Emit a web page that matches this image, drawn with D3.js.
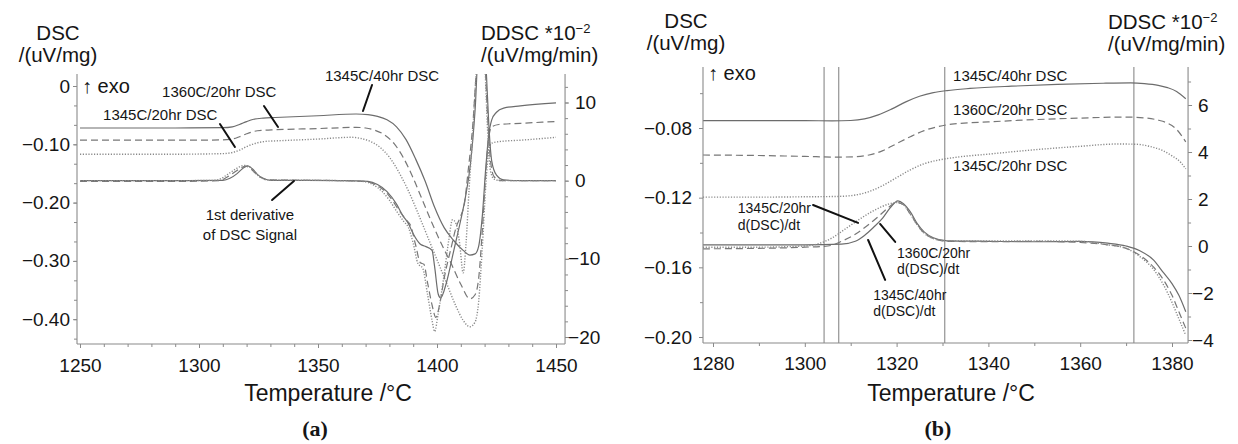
<!DOCTYPE html>
<html><head><meta charset="utf-8">
<script src="https://cdn.jsdelivr.net/npm/d3@7"></script>
<style>
body{margin:0;background:#fff}
svg{display:block}
text{font-family:"Liberation Sans",Arial,Helvetica,sans-serif;fill:#151515}
</style>
</head><body>
<svg id="chart" width="1238" height="444"></svg>
<script>
// ---------------- DATA ----------------
const seriesNames = ["1345C/40hr", "1360C/20hr", "1345C/20hr"];

// Panel (a) tick values / labels
const tempTicksA = [1250, 1300, 1350, 1400, 1450];
const dscTicksA = [0, -0.1, -0.2, -0.3, -0.4];
const dscTickLabelsA = ["0", "−0.10", "−0.20", "−0.30", "−0.40"];
const ddscTicksA = [10, 0, -10, -20];
const ddscTickLabelsA = ["10", "0", "−10", "−20"];

// Panel (b) tick values / labels
const tempTicksB = [1280, 1300, 1320, 1340, 1360, 1380];
const dscTicksB = [-0.08, -0.12, -0.16, -0.20];
const dscTickLabelsB = ["−0.08", "−0.12", "−0.16", "−0.20"];
const ddscTicksB = [6, 4, 2, 0, -2, -4];
const ddscTickLabelsB = ["6", "4", "2", "0", "−2", "−4"];

// Panel (a) DSC signal (uV/mg) [temperature °C, value]
const dscA_1345C40hr = [[1250,-0.072],[1290,-0.072],[1310,-0.0715],[1314,-0.070],[1317,-0.066],[1320,-0.061],[1323,-0.057],[1327,-0.055],[1332,-0.054],[1350,-0.051],[1366,-0.048],[1371,-0.049],[1375,-0.052],[1379,-0.058],[1383,-0.070],[1387,-0.092],[1391,-0.125],[1395,-0.163],[1399,-0.208],[1403,-0.243],[1407,-0.265],[1411,-0.282],[1413.8,-0.290],[1416,-0.288],[1417.5,-0.275],[1419,-0.225],[1420.5,-0.140],[1421.7,-0.085],[1423,-0.058],[1425,-0.045],[1428,-0.038],[1435,-0.034],[1450,-0.029]];
const dscA_1360C20hr = [[1250,-0.093],[1290,-0.093],[1310,-0.0925],[1314,-0.091],[1317,-0.087],[1320,-0.082],[1323,-0.078],[1327,-0.076],[1332,-0.075],[1350,-0.073],[1366,-0.071],[1370,-0.072],[1374,-0.076],[1378,-0.084],[1382,-0.099],[1386,-0.124],[1390,-0.158],[1394,-0.197],[1398,-0.236],[1402,-0.272],[1406,-0.305],[1410,-0.340],[1413.8,-0.365],[1416,-0.358],[1417.5,-0.330],[1419,-0.250],[1420.5,-0.150],[1421.7,-0.090],[1423,-0.070],[1426,-0.066],[1435,-0.064],[1450,-0.061]];
const dscA_1345C20hr = [[1250,-0.117],[1290,-0.117],[1310,-0.116],[1314,-0.114],[1317,-0.110],[1320,-0.104],[1324,-0.098],[1328,-0.095],[1333,-0.094],[1350,-0.091],[1364,-0.088],[1368,-0.090],[1372,-0.095],[1376,-0.105],[1380,-0.122],[1384,-0.148],[1388,-0.180],[1392,-0.218],[1396,-0.258],[1400,-0.298],[1404,-0.338],[1408,-0.378],[1411,-0.402],[1413.8,-0.413],[1416,-0.405],[1417.5,-0.370],[1419,-0.280],[1420.5,-0.170],[1421.7,-0.112],[1423,-0.098],[1427,-0.095],[1435,-0.093],[1450,-0.088]];

// Panel (a) 1st derivative (10^-2 uV/mg/min)
const ddscA_1345C40hr = [[1250,0],[1290,0],[1310,0.05],[1313,0.3],[1316,0.9],[1318.5,1.6],[1320.5,1.9],[1322.5,1.5],[1324.5,0.8],[1327,0.3],[1330,0.05],[1360,0],[1371,-0.1],[1375,-0.5],[1379,-1.4],[1383,-3.0],[1385.7,-4.5],[1388,-5.5],[1390,-6.8],[1392.9,-8.1],[1395,-8.4],[1397.9,-8.9],[1399,-11],[1400.5,-14.5],[1401.5,-15],[1404,-13],[1407,-9],[1410,-5],[1412,-2],[1414,2],[1416,9],[1418,20],[1419.5,20],[1420.7,14],[1421.8,7],[1423,2.5],[1425,0.7],[1428,0.1],[1435,0],[1450,0]];
const ddscA_1360C20hr = [[1250,-0.1],[1290,-0.1],[1308,0],[1311,0.3],[1314,0.9],[1317,1.5],[1319.5,1.85],[1321.5,1.6],[1323.5,1.0],[1326,0.4],[1329,0.1],[1360,0],[1370,-0.1],[1374,-0.5],[1378,-1.3],[1381,-2.4],[1384,-3.8],[1387,-5.0],[1389,-5.8],[1391,-8.2],[1393,-10.5],[1394.5,-10.7],[1396,-13],[1398,-16],[1399.5,-17.5],[1401,-16],[1403,-12.5],[1406,-8.5],[1408,-6],[1410,-4.5],[1411.5,-3],[1413,1],[1415,7],[1417,16],[1418.5,20],[1420,16],[1421.3,8],[1422.5,2.5],[1424,0.5],[1427,0],[1450,0]];
const ddscA_1345C20hr = [[1250,0],[1290,0],[1307,0.05],[1310,0.4],[1313,1.0],[1316,1.6],[1319,1.95],[1321,1.8],[1323,1.2],[1325.5,0.5],[1329,0.1],[1360,0],[1369,-0.1],[1373,-0.5],[1377,-1.4],[1380,-2.5],[1383,-3.9],[1386,-5.2],[1388,-6.0],[1390,-8.0],[1392,-10.6],[1394,-11.2],[1396,-14.5],[1398,-18],[1399,-19.3],[1400.5,-17],[1403,-12],[1405,-7.5],[1406.5,-5],[1408,-5.5],[1409.5,-8],[1411,-11.8],[1412.2,-8],[1413.5,-1],[1415,6],[1416.5,14],[1418,20],[1419.5,20],[1420.5,12],[1421.5,5],[1422.5,1.2],[1424,0.2],[1427,0],[1450,0]];

// Panel (b) DSC signal (uV/mg)
const dscB_1345C40hr = [[1277.8,-0.0758],[1290,-0.0758],[1300,-0.0758],[1306,-0.0759],[1310,-0.0757],[1313,-0.0748],[1316,-0.0725],[1319,-0.0690],[1322,-0.0650],[1325,-0.0618],[1328,-0.0597],[1331,-0.0585],[1336,-0.0573],[1345,-0.0560],[1355,-0.0550],[1365,-0.0543],[1371,-0.0541],[1374,-0.0545],[1377,-0.0555],[1379,-0.0568],[1381,-0.0590],[1383,-0.0632]];
const dscB_1360C20hr = [[1277.8,-0.0955],[1290,-0.0958],[1300,-0.0963],[1307,-0.0967],[1311,-0.0965],[1314,-0.0955],[1317,-0.0930],[1320,-0.0890],[1323,-0.0850],[1326,-0.0815],[1329,-0.0792],[1332,-0.0778],[1340,-0.0765],[1350,-0.0752],[1360,-0.0743],[1370,-0.0737],[1374,-0.0742],[1377,-0.0755],[1379,-0.0772],[1381,-0.0808],[1383,-0.0880]];
const dscB_1345C20hr = [[1277.8,-0.1197],[1290,-0.1197],[1300,-0.1195],[1307,-0.1193],[1311,-0.1185],[1314,-0.1165],[1317,-0.1130],[1320,-0.1085],[1323,-0.1040],[1326,-0.1005],[1329,-0.0985],[1333,-0.0968],[1340,-0.0950],[1350,-0.0925],[1360,-0.0905],[1368,-0.0892],[1372,-0.0893],[1375,-0.0905],[1378,-0.0930],[1380,-0.0960],[1382,-0.1000],[1383,-0.1035]];

// Panel (b) 1st derivative (10^-2 uV/mg/min)
const ddscB_1345C40hr = [[1277.8,0.05],[1290,0.05],[1300,0.05],[1308,0.08],[1311,0.2],[1313,0.45],[1315,0.8],[1317,1.2],[1318.5,1.6],[1320.3,1.92],[1321.5,1.8],[1323,1.45],[1324.5,0.95],[1326,0.6],[1328,0.35],[1331,0.22],[1340,0.2],[1350,0.18],[1360,0.2],[1366,0.12],[1370,0],[1373,-0.2],[1376,-0.6],[1378,-1.1],[1380,-1.6],[1381.5,-2.1],[1383,-2.8]];
const ddscB_1360C20hr = [[1277.8,-0.12],[1290,-0.1],[1300,-0.05],[1305,0],[1308,0.2],[1311,0.5],[1313.5,0.85],[1316,1.25],[1318,1.6],[1320,1.85],[1321.5,1.75],[1323,1.35],[1324.5,0.9],[1326,0.55],[1328,0.32],[1331,0.2],[1340,0.18],[1350,0.2],[1360,0.15],[1366,0.05],[1370,-0.1],[1373,-0.4],[1376,-0.9],[1378,-1.4],[1380,-2.1],[1381.5,-2.8],[1383,-3.5]];
const ddscB_1345C20hr = [[1277.8,-0.05],[1290,-0.05],[1300,0],[1303,0.1],[1306,0.35],[1309,0.75],[1312,1.15],[1314.5,1.45],[1316.5,1.65],[1318.5,1.8],[1320,1.85],[1321.5,1.75],[1323,1.35],[1324.5,0.9],[1326,0.55],[1328,0.32],[1331,0.22],[1340,0.22],[1350,0.22],[1360,0.2],[1366,0.05],[1370,-0.1],[1373,-0.45],[1376,-1.0],[1378,-1.6],[1380,-2.4],[1381.5,-3.1],[1383,-3.8]];

// Panel (b) vertical marker temperatures
const markerTempsB = [1304.2, 1307.4, 1330.5, 1371.7];

// ---------------- DRAWING ----------------
const svg = d3.select("#chart");
const STYLE = {
  "1345C/40hr": {dash: null, color: "#6c6c6c", width: 1.2},
  "1360C/20hr": {dash: "7,4", color: "#777", width: 1.2},
  "1345C/20hr": {dash: "1.2,1.6", color: "#8a8a8a", width: 1.4}
};
const AXIS_COLOR = "#8a8a8a";

function drawPanel(P) {
  const g = svg.append("g");
  const x = d3.scaleLinear().domain(P.xDom).range(P.xRng);
  const yL = d3.scaleLinear().domain(P.yLDom).range(P.yLRng);
  const yR = d3.scaleLinear().domain(P.yRDom).range(P.yRRng);
  const fx0 = x(P.xFrame[0]), fx1 = x(P.xFrame[1]);
  const fy0 = P.yFrame[0], fy1 = P.yFrame[1];

  const clipId = "clip-" + P.id;
  svg.append("defs").append("clipPath").attr("id", clipId)
    .append("rect").attr("x", fx0).attr("y", fy0).attr("width", fx1 - fx0).attr("height", fy1 - fy0);

  // vertical markers
  if (P.markers) {
    g.selectAll("line.marker").data(P.markers).join("line")
      .attr("x1", d => x(d)).attr("x2", d => x(d))
      .attr("y1", fy0).attr("y2", fy1)
      .attr("stroke", "#7d7d7d").attr("stroke-width", 1);
  }

  // series
  const plot = g.append("g").attr("clip-path", `url(#${clipId})`);
  const lineL = d3.line().x(d => x(d[0])).y(d => yL(d[1])).curve(d3.curveMonotoneX);
  const lineR = d3.line().x(d => x(d[0])).y(d => yR(d[1])).curve(d3.curveMonotoneX);
  P.dsc.forEach((s, i) => {
    const st = STYLE[seriesNames[i]];
    plot.append("path").datum(s).attr("d", lineL).attr("fill", "none")
      .attr("stroke", st.color).attr("stroke-width", st.width)
      .attr("stroke-dasharray", st.dash);
  });
  P.ddsc.forEach((s, i) => {
    const st = STYLE[seriesNames[i]];
    plot.append("path").datum(s).attr("d", lineR).attr("fill", "none")
      .attr("stroke", st.color).attr("stroke-width", st.width)
      .attr("stroke-dasharray", st.dash);
  });

  // frame
  const fr = g.append("g").attr("stroke", AXIS_COLOR).attr("stroke-width", 1.1);
  fr.append("line").attr("x1", fx0).attr("x2", fx0).attr("y1", fy0).attr("y2", fy1);
  fr.append("line").attr("x1", fx1).attr("x2", fx1).attr("y1", fy0).attr("y2", fy1);
  fr.append("line").attr("x1", fx0).attr("x2", fx1).attr("y1", fy1).attr("y2", fy1);

  const styleAxis = sel => {
    sel.select(".domain").remove();
    sel.selectAll(".tick line").attr("stroke", AXIS_COLOR);
    sel.selectAll(".tick text").attr("font-size", 19).attr("fill", "#151515")
      .style("font-family", '"Liberation Sans", Arial, sans-serif');
  };

  // bottom axis
  g.append("g").attr("transform", `translate(0,${fy1})`)
    .call(d3.axisBottom(x).tickValues(P.xTicks).tickFormat(d3.format("d")).tickSize(4).tickPadding(P.xPad))
    .call(styleAxis);
  g.append("g").attr("transform", `translate(0,${fy1})`)
    .call(d3.axisBottom(x).tickValues(P.xMinor).tickFormat("").tickSize(3))
    .call(styleAxis);

  // left axis
  g.append("g").attr("transform", `translate(${fx0},0)`)
    .call(d3.axisLeft(yL).tickValues(P.yLTicks).tickFormat((d, i) => P.yLLabels[i]).tickSize(4).tickPadding(P.yLPad))
    .call(styleAxis);
  g.append("g").attr("transform", `translate(${fx0},0)`)
    .call(d3.axisLeft(yL).tickValues(P.yLMinor).tickFormat("").tickSize(3))
    .call(styleAxis);

  // right axis
  const ra = g.append("g").attr("transform", `translate(${fx1},0)`)
    .call(d3.axisRight(yR).tickValues(P.yRTicks).tickFormat((d, i) => P.yRLabels[i]).tickSize(4))
    .call(styleAxis);
  ra.selectAll(".tick text").attr("x", d => d < 0 ? P.rNeg : P.rPos);
  g.append("g").attr("transform", `translate(${fx1},0)`)
    .call(d3.axisRight(yR).tickValues(P.yRMinor).tickFormat("").tickSize(3))
    .call(styleAxis);

  // axis titles
  const T = P.titles;
  const TF = 20.5;
  g.append("text").attr("x", T.lx).attr("y", T.ly1).attr("text-anchor", "middle").attr("font-size", TF).text("DSC");
  g.append("text").attr("x", T.lx).attr("y", T.ly2).attr("text-anchor", "middle").attr("font-size", TF).text("/(uV/mg)");
  const rt = g.append("text").attr("x", T.rx).attr("y", T.ry1).attr("font-size", TF);
  rt.append("tspan").text("DDSC *10");
  rt.append("tspan").attr("font-size", 13).attr("dy", -7).text("−2");
  g.append("text").attr("x", T.rx).attr("y", T.ry2).attr("font-size", TF).text("/(uV/mg/min)");
  g.append("text").attr("x", fx0 + 5).attr("y", T.exoY).attr("font-size", 20).text("↑ exo");

  g.append("text").attr("x", T.tx).attr("y", 401).attr("text-anchor", "middle").attr("font-size", 23).text("Temperature /°C");
  g.append("text").attr("x", T.px).attr("y", 436).attr("text-anchor", "middle").attr("font-size", 22)
    .attr("font-weight", "bold").style("font-family", '"Liberation Serif","Times New Roman",serif').text(P.panelLabel);

  // annotations (positioned in data units of the left axis)
  P.notes.forEach(n => {
    const t = g.append("text").attr("x", x(n.at[0])).attr("y", yL(n.at[1]))
      .attr("text-anchor", n.anchor || "start").attr("font-size", n.size).attr("fill", "#2a2a2a");
    n.text.forEach((s, k) => {
      t.append("tspan").attr("x", x(n.at[0])).attr("dy", k === 0 ? 0 : n.lh).text(s);
    });
  });
  g.selectAll("line.arrow").data(P.arrows).join("line").attr("class", "arrow")
    .attr("x1", d => x(d[0][0])).attr("y1", d => yL(d[0][1]))
    .attr("x2", d => x(d[1][0])).attr("y2", d => yL(d[1][1]))
    .attr("stroke", "#111").attr("stroke-width", 2).attr("stroke-linecap", "round");
}

// panel (a)
drawPanel({
  id: "a", panelLabel: "(a)",
  xDom: [1250, 1450], xRng: [80, 556], xFrame: [1248.74, 1453.8],
  yLDom: [0, -0.4], yLRng: [86, 319.2],
  yRDom: [10, -20], yRRng: [102.5, 337],
  yFrame: [74, 344],
  xTicks: tempTicksA, xMinor: d3.range(1260, 1450, 10).filter(v => v % 50 !== 0), xPad: 10.5,
  yLTicks: dscTicksA, yLLabels: dscTickLabelsA, yLPad: 3,
  yLMinor: d3.range(-13, 1).map(k => k * 0.1 / 3),
  yRTicks: ddscTicksA, yRLabels: ddscTickLabelsA, yRMinor: d3.range(-20, 14, 2), rNeg: 3, rPos: 10,
  dsc: [dscA_1345C40hr, dscA_1360C20hr, dscA_1345C20hr],
  ddsc: [ddscA_1345C40hr, ddscA_1360C20hr, ddscA_1345C20hr],
  titles: {lx: 58, ly1: 40, ly2: 62, rx: 481, ry1: 40, ry2: 62, exoY: 93, tx: 328, px: 315},
  notes: [
    {text: ["1345C/40hr DSC"], at: [1352.9, 0.0086], size: 15},
    {text: ["1360C/20hr DSC"], at: [1284.5, -0.0189], size: 15},
    {text: ["1345C/20hr DSC"], at: [1259.7, -0.0583], size: 15},
    {text: ["1st derivative", "of DSC Signal"], at: [1321.4, -0.2298], size: 15, lh: 20, anchor: "middle"}
  ],
  arrows: [
    [[1372.7, 0.0017], [1368.9, -0.0429]],
    [[1327.3, -0.0343], [1333.2, -0.0703]],
    [[1308.8, -0.0652], [1315.1, -0.1046]],
    [[1330.7, -0.1955], [1339.9, -0.1630]]
  ]
});

// panel (b)
drawPanel({
  id: "b", panelLabel: "(b)",
  xDom: [1280, 1380], xRng: [713, 1172], xFrame: [1277.82, 1383.5],
  yLDom: [-0.08, -0.20], yLRng: [128, 337],
  yRDom: [6, -4], yRRng: [105, 340],
  yFrame: [67, 343],
  xTicks: tempTicksB, xMinor: [1290, 1310, 1330, 1350, 1370],
  xPad: 9.5,
  yLTicks: dscTicksB, yLLabels: dscTickLabelsB, yLPad: 7,
  yLMinor: [-0.06, -0.10, -0.14, -0.18],
  yRTicks: ddscTicksB, yRLabels: ddscTickLabelsB, yRMinor: [7, 5, 3, 1, -1, -3], rNeg: 4, rPos: 10,
  markers: markerTempsB,
  dsc: [dscB_1345C40hr, dscB_1360C20hr, dscB_1345C20hr],
  ddsc: [ddscB_1345C40hr, ddscB_1360C20hr, ddscB_1345C20hr],
  titles: {lx: 686, ly1: 28, ly2: 50, rx: 1108, ry1: 29, ry2: 51, exoY: 80, tx: 951, px: 938},
  notes: [
    {text: ["1345C/40hr DSC"], at: [1332.3, -0.0530], size: 15},
    {text: ["1360C/20hr DSC"], at: [1332.3, -0.0725], size: 15},
    {text: ["1345C/20hr DSC"], at: [1332.3, -0.1047], size: 15},
    {text: ["1345C/20hr", "d(DSC)/dt"], at: [1285.4, -0.1288], size: 14, lh: 17},
    {text: ["1360C/20hr", "d(DSC)/dt"], at: [1320.1, -0.1546], size: 14, lh: 16},
    {text: ["1345C/40hr", "d(DSC)/dt"], at: [1314.9, -0.1787], size: 14, lh: 16}
  ],
  arrows: [
    [[1301.8, -0.1242], [1311.6, -0.1345]],
    [[1319.7, -0.1454], [1316.4, -0.1351]],
    [[1317.5, -0.1672], [1313.8, -0.1443]]
  ]
});
</script>
</body></html>
